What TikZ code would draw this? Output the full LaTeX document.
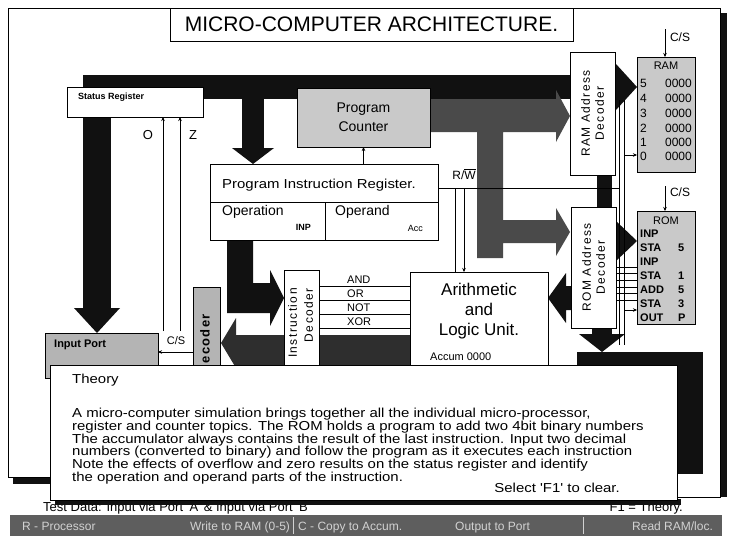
\documentclass[tikz,border=0pt]{standalone}
\usepackage{fontspec}
\setmainfont{Liberation Sans}
\newfontfamily\widefont[FakeStretch=1.15]{Liberation Sans}
\usetikzlibrary{arrows.meta}
\newcommand\myfs[1]{\fontsize{#1}{#1}\selectfont}
\definecolor{busblk}{HTML}{111111}
\definecolor{busgry}{HTML}{4A4A4A}
\definecolor{busdk}{HTML}{2E2E2E}
\definecolor{lgrey}{HTML}{C9C9C9}
\definecolor{mgrey}{HTML}{B4B4B4}
\definecolor{barbg}{HTML}{5E5E5E}
\definecolor{bartxt}{HTML}{D2D2D2}
\begin{document}
\begin{tikzpicture}[x=1pt,y=-1pt,
  box/.style={draw=black,line width=0.7pt,fill=white,inner sep=0pt,outer sep=0pt,anchor=north west},
  gbox/.style={box,fill=lgrey},
  thinln/.style={draw=black,line width=0.5pt},
  tarrow/.style={thinln,-{Stealth[length=4pt,width=3.5pt]}},
  lbl/.style={inner sep=0pt,anchor=west},
  bl/.style={inner sep=0pt,anchor=base west},
  spaced/.style={font=\myfs{12}\addfontfeature{LetterSpace=12}},
  theorytxt/.style={bl,font=\widefont\myfs{13}},
]
\useasboundingbox (0,0) rectangle (737,536);
\fill[white] (0,0) rectangle (737,536);
% outer frame with shadow
\fill[busblk] (720,13) rectangle (727,497);
\fill[busblk] (13,477) rectangle (50,484);
\draw[line width=0.7pt,fill=white] (8,8) -- (720,8) -- (720,497) -- (677,497) -- (677,477) -- (8,477) -- cycle;
% title
\node[box,minimum width=403,minimum height=33] (titlebox) at (170,8) {};
\node[font=\myfs{21}] (title) at (titlebox.center) {MICRO-COMPUTER ARCHITECTURE.};

% ---------- buses ----------
\fill[busblk] (83,75) rectangle (626,99);
\fill[busblk] (616,64) -- (637,87) -- (616,110) -- cycle;
\fill[busblk] (83,75) rectangle (111,309);
\fill[busblk] (74,308) -- (120,308) -- (97,333) -- cycle;
\fill[busblk] (242,99) rectangle (264,149);
\fill[busblk] (232,148) -- (274,148) -- (253,164) -- cycle;
\fill[busblk] (227,240) -- (253,240) -- (253,283) -- (270,283) -- (270,270) -- (284,298) -- (270,326) -- (270,313) -- (227,313) -- cycle;
\fill[busgry] (430,99) -- (556,99) -- (556,90) -- (570,116) -- (556,142) -- (556,132) -- (503,132) -- (503,220) -- (556,220) -- (556,208) -- (570,232) -- (556,256) -- (556,243) -- (503,243) -- (503,258) -- (477,258) -- (477,132) -- (430,132) -- cycle;
\fill[busblk] (597,174) rectangle (612,208);
\fill[busblk] (572,286) -- (566,286) -- (566,273) -- (548,298) -- (566,323) -- (566,310) -- (572,310) -- cycle;
\fill[busblk] (616,221) -- (637,241) -- (616,261) -- cycle;
\fill[busblk] (592,327) rectangle (612,336);
\fill[busblk] (579,334) -- (625,334) -- (602,352) -- cycle;
\fill[busblk] (577,352) rectangle (703,367);
\fill[busblk] (678,352) rectangle (703,474);
\fill[busdk] (236,335) rectangle (410,368);
\fill[busdk] (236,318) -- (221,343) -- (236,368) -- cycle;

% ---------- boxes ----------
\node[box,minimum width=136,minimum height=30] (sreg) at (67,87) {};
\node[lbl,font=\myfs{9}\bfseries] (sregt) at (78,97) {Status Register};

\node[gbox,minimum width=133,minimum height=59] (pc) at (297,88) {};
\node[font=\myfs{14},align=center] (pct) at (pc.center) {Program\\[5pt]Counter};

\node[box,minimum width=228,minimum height=38] (pir) at (210,164) {};
\node[box,minimum width=115,minimum height=38] (pop) at (210,202) {};
\node[box,minimum width=113,minimum height=38] (pod) at (325,202) {};
\node[lbl,font=\widefont\myfs{13}] (pirt) at (222,185) {Program Instruction Register.};
\node[lbl,font=\myfs{14}] (popt) at (222,212) {Operation};
\node[inner sep=0pt,anchor=east,font=\myfs{9}\bfseries] (popv) at (311,227) {INP};
\node[lbl,font=\myfs{14}] (podt) at (335,212) {Operand};
\node[inner sep=0pt,anchor=east,font=\myfs{9}] (podv) at (423,228) {Acc};

\node[box,fill=mgrey,minimum width=113,minimum height=45] (inp) at (45,333) {};
\node[lbl,font=\myfs{11}\bfseries] (inpt) at (54,345) {Input Port};

\node[box,fill=mgrey,minimum width=27,minimum height=100] (pdec) at (193,287) {};
\node[rotate=90,anchor=north east,inner sep=0pt,font=\myfs{13}\bfseries\addfontfeature{LetterSpace=10}] (pdect) at (200,314) {Decoder};

\node[box,minimum width=35,minimum height=120] (idec) at (284,270) {};
\node[rotate=90,anchor=north east,inner sep=0pt,spaced] (idect1) at (288,288) {Instruction};
\node[rotate=90,anchor=north east,inner sep=0pt,spaced] (idect2) at (304,288) {Decoder};

\node[box,minimum width=138,minimum height=110] (alu) at (410,272) {};
\node[font=\myfs{17},align=center] (alut) at (479,311) {Arithmetic\\[3pt]and\\[3pt]Logic Unit.};
\node[lbl,font=\myfs{11}] (acc) at (430,357) {Accum 0000};

\node[box,minimum width=45,minimum height=123] (ramdec) at (570,52) {};
\node[rotate=90,align=center,spaced] (ramdect) at (ramdec.center) {RAM Address\\[2pt]Decoder};
\node[box,minimum width=45,minimum height=121] (romdec) at (571,207) {};
\node[rotate=90,align=center,spaced] (romdect) at (romdec.center) {ROM Address\\[2pt]Decoder};

\node[box,fill=lgrey,minimum width=58,minimum height=115] (ram) at (637,57) {};
\node[font=\myfs{11}] (ramt) at (666,66) {RAM};
\foreach \i/\yy in {5/83,4/98,3/113,2/128,1/142,0/156}{
  \node[lbl,font=\myfs{12}] (ri\i) at (640,\yy) {\i};
  \node[inner sep=0pt,anchor=east,font=\myfs{12}] (rv\i) at (692,\yy) {0000};
}
\node[box,fill=lgrey,minimum width=58,minimum height=113] (rom) at (637,211) {};
\node[font=\myfs{11}] (romt) at (666,221) {ROM};
\foreach \k/\mn/\arg/\yy in {a/INP//234,b/STA/5/248,c/INP//262,d/STA/1/276,e/ADD/5/290,f/STA/3/304,g/OUT/P/318}{
  \node[lbl,font=\myfs{11}\bfseries] (rm\k) at (640,\yy) {\mn};
  \node[lbl,font=\myfs{11}\bfseries] (ra\k) at (678,\yy) {\arg};
}

% ---------- thin connectors ----------
\node[font=\myfs{12}] (csram) at (680,37) {C/S};
\coordinate (csramA) at (665,29);
\draw[tarrow] (csramA) -- (csramA |- ram.north);
\node[font=\myfs{12}] (csrom) at (680,192) {C/S};
\coordinate (csromA) at (665,186);
\draw[tarrow] (csromA) -- (csromA |- rom.north);

\node[font=\myfs{13}] (olbl) at (148,135) {O};
\node[font=\myfs{13}] (zlbl) at (193,135) {Z};
\coordinate (oline) at (163,331);
\coordinate (zline) at (180,331);
\draw[tarrow] (oline) -- (oline |- sreg.south);
\draw[tarrow] (zline) -- (zline |- sreg.south);

\node[font=\myfs{11}] (cslbl) at (176,341) {C/S};
\coordinate (csin) at (193,352);
\draw[tarrow] (csin) -- (csin -| inp.east);

\draw[tarrow] (pc.south |- pir.north) -- (pc.south);

\node[font=\myfs{12}] (rw) at (464,174) {R/$\overline{\hbox{W}}$};
\coordinate (rw0) at (438,188);
\coordinate (rw1) at (619,188);
\draw[thinln] (rw0) -- (rw1);
\coordinate (bl1) at (619,100);
\coordinate (bl2) at (624,100);
\draw[thinln] (bl1) -- ++(0,245);
\draw[thinln] (bl2) -- ++(0,245);
\coordinate (rwv1) at (455,188);
\coordinate (rwv2) at (464,188);
\draw[thinln] (rwv1) -- (rwv1 |- alu.north);
\draw[tarrow] (rwv2) -- (rwv2 |- alu.north);

\foreach \nm/\yy/\ly in {AND/286/280,OR/300/294,NOT/314/308,XOR/328/322}{
  \draw[thinln] (idec.east |- 0,\yy) -- (alu.west |- 0,\yy);
  \node[lbl,font=\myfs{11}] (op\nm) at (347,\ly) {\nm};
}
\foreach \yy in {267,273,280,287,293,300}{
  \draw[thinln] (romdec.east |- 0,\yy) -- (rom.west |- 0,\yy);
}
\coordinate (r0a) at (624,155);
\draw[tarrow] (r0a) -- (r0a -| ram.west);
\coordinate (r3a) at (624,310);
\draw[tarrow] (r3a) -- (r3a -| rom.west);

% ---------- bottom texts ----------
\node[bl,font=\myfs{13}] (testd) at (43,511) {Test Data: Input via Port 'A' \& Input via Port 'B'};
\node[inner sep=0pt,anchor=base east,font=\myfs{13}] (f1) at (683,511) {F1 = Theory.};

% ---------- theory popup ----------
\fill[busblk] (55,499) rectangle (681,505);
\node[box,minimum width=627,minimum height=135] (theory) at (50,365) {};
\node[theorytxt] (thh) at (72,383) {Theory};
\node[theorytxt] (th1) at (72,417) {A micro-computer simulation brings together all the individual micro-processor,};
\node[theorytxt] (th2) at (72,430) {register and counter topics. The ROM holds a program to add two 4bit binary numbers};
\node[theorytxt] (th3) at (72,443) {The accumulator always contains the result of the last instruction. Input two decimal};
\node[theorytxt] (th4) at (72,455) {numbers (converted to binary) and follow the program as it executes each instruction};
\node[theorytxt] (th5) at (72,468) {Note the effects of overflow and zero results on the status register and identify};
\node[theorytxt] (th6) at (72,481) {the operation and operand parts of the instruction.};
\node[inner sep=0pt,anchor=base east,font=\widefont\myfs{13}] (sel) at (620,492) {Select 'F1' to clear.};

% ---------- status bar ----------
\node[box,fill=barbg,draw=none,minimum width=712,minimum height=21] (sbar) at (10,515) {};
\draw[bartxt,line width=0.8pt] (sbar.north west) ++(283,2) -- ++(0,17);
\draw[bartxt,line width=0.8pt] (sbar.north west) ++(573,2) -- ++(0,17);
\begin{scope}[every node/.style={bl,font=\myfs{12},text=bartxt}]
\node (sb1) at (22,530) {R - Processor};
\node (sb2) at (190,530) {Write to RAM (0-5)};
\node (sb3) at (298,530) {C - Copy to Accum.};
\node (sb4) at (455,530) {Output to Port};
\node (sb5) at (632,530) {Read RAM/loc.};
\end{scope}
\end{tikzpicture}
\end{document}
